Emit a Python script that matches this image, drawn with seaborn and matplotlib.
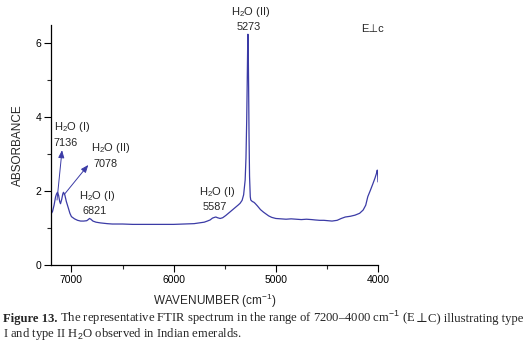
import matplotlib
matplotlib.use("Agg")
import matplotlib.pyplot as plt
import seaborn as sns
import pandas as pd

# ---- data ----
wavenumber = [7200, 7185, 7170, 7155, 7145, 7136, 7125, 7115, 7107, 7095, 7085, 7078,
              7065, 7050, 7029, 7015, 7000, 6970, 6940, 6910, 6880, 6850, 6835, 6824,
              6810, 6790, 6760, 6716, 6650, 6600, 6500, 6400, 6300, 6200, 6100, 6000,
              5900, 5800, 5750, 5700, 5670, 5643, 5620, 5600, 5587, 5570, 5545, 5520,
              5490, 5447, 5400, 5370, 5350, 5330, 5315, 5300, 5292, 5285, 5280, 5276,
              5273, 5270, 5266, 5262, 5257, 5250, 5245, 5230, 5215, 5203, 5180, 5150,
              5120, 5105, 5070, 5040, 5000, 4950, 4900, 4850, 4800, 4750, 4700, 4650,
              4615, 4570, 4530, 4490, 4450, 4400, 4360, 4320, 4270, 4225, 4180, 4145,
              4120, 4100, 4075, 4050, 4030, 4015, 4007, 4003, 4000]
absorbance = [1.38, 1.45, 1.62, 1.85, 1.93, 1.97, 1.88, 1.72, 1.66, 1.78, 1.92, 1.97,
              1.90, 1.72, 1.53, 1.40, 1.31, 1.25, 1.21, 1.19, 1.19, 1.20, 1.23, 1.26,
              1.24, 1.19, 1.16, 1.14, 1.12, 1.11, 1.11, 1.10, 1.10, 1.10, 1.10, 1.10,
              1.11, 1.12, 1.14, 1.16, 1.19, 1.22, 1.27, 1.29, 1.30, 1.28, 1.26, 1.28,
              1.34, 1.44, 1.55, 1.62, 1.67, 1.75, 1.90, 2.30, 2.90, 3.90, 4.90, 5.80,
              6.25, 5.90, 4.80, 3.50, 2.40, 1.85, 1.76, 1.72, 1.70, 1.67, 1.60, 1.50,
              1.43, 1.40, 1.33, 1.29, 1.26, 1.25, 1.24, 1.25, 1.24, 1.23, 1.24, 1.23,
              1.22, 1.21, 1.21, 1.20, 1.19, 1.21, 1.26, 1.30, 1.32, 1.35, 1.40, 1.49,
              1.62, 1.85, 2.02, 2.20, 2.35, 2.48, 2.57, 2.45, 2.25]

peak_names = ["H$_2$O (I)", "H$_2$O (II)", "H$_2$O (I)", "H$_2$O (I)", "H$_2$O (II)"]
peak_positions = ["7136", "7078", "6821", "5587", "5273"]
x_ticks = [7000, 6000, 5000, 4000]
y_ticks = [0, 2, 4, 6]

df = pd.DataFrame({"wavenumber": wavenumber, "absorbance": absorbance})

sns.set_style("ticks")
plt.rcParams["font.family"] = ["Liberation Sans", "DejaVu Sans"]
plt.rcParams["mathtext.fontset"] = "custom"
plt.rcParams["mathtext.rm"] = "Liberation Sans"

W, H = 530, 353
fig = plt.figure(figsize=(W / 100, H / 100), dpi=100)
ax = fig.add_axes([51 / W, 1 - 265 / H, (378 - 51) / W, (265 - 25) / H])


def fp(x, y):
    return (x / W, 1 - y / H)


line_color = "#3b3ba6"
sns.lineplot(data=df, x="wavenumber", y="absorbance", ax=ax, color=line_color,
             linewidth=0.9, sort=True)

ax.set_xlim(7200, 4000)
ax.set_ylim(0, 6.5)
ax.set_xticks(x_ticks)
ax.set_xticks([6500, 5500, 4500], minor=True)
ax.set_yticks(y_ticks)
ax.set_yticks([1, 3, 5], minor=True)
ax.tick_params(axis="both", which="major", direction="out", length=5, width=0.8,
               labelsize=7.5, colors="black", pad=2)
ax.tick_params(axis="both", which="minor", direction="out", length=3, width=0.8)
sns.despine(ax=ax)
for s in ["left", "bottom"]:
    ax.spines[s].set_linewidth(0.9)
    ax.spines[s].set_color("black")

ax.set_xlabel("WAVENUMBER (cm$^{-1}$)", fontsize=8.5, labelpad=5)
ax.set_ylabel("ABSORBANCE", fontsize=8.5, labelpad=8)

# peak labels (pixel centres of each line)
name_pos = [(72, 127), (111, 148), (97, 196), (217, 192), (251, 12)]
num_pos = [(65.5, 143), (106, 164), (94.5, 211), (215, 207), (248.5, 27)]
for name, num, p1, p2 in zip(peak_names, peak_positions, name_pos, num_pos):
    fig.text(*fp(*p1), name, fontsize=8, ha="center", va="center")
    fig.text(*fp(*p2), num, fontsize=7.8, ha="center", va="center")
fig.text(*fp(373, 29), "E⊥c", fontsize=8, ha="center", va="center",
         family=["Liberation Sans", "DejaVu Sans"])

akw = dict(arrowstyle="-|>,head_length=0.45,head_width=0.18", color=line_color, lw=0.7,
           shrinkA=0, shrinkB=0)
ax.annotate("", xy=(7092, 3.11), xytext=(7141, 1.76), arrowprops=akw)
ax.annotate("", xy=(6835, 2.71), xytext=(7073, 1.90), arrowprops=akw)

# caption, placed segment by segment
serif = "Liberation Serif"
fs = 9.05
segments1 = [("Figure 13.", serif, "bold"),
             (" The representative FTIR spectrum in the range of 7200–4000 cm$^{-1}$ (E", serif, "normal"),
             ("⊥", "DejaVu Serif", "normal"),
             ("C) illustrating type", serif, "normal")]
fig.canvas.draw()
r = fig.canvas.get_renderer()
x = 3
for txt, fam, wt in segments1:
    t = fig.text(x / W, 1 - 322 / H, txt, fontsize=fs, fontweight=wt, family=fam,
                 va="baseline", ha="left")
    bb = t.get_window_extent(r)
    x = bb.x1
fig.text(3 / W, 1 - 337.5 / H, "I and type II H$_2$O observed in Indian emeralds.",
         fontsize=fs, family=serif, va="baseline", ha="left")

fig.savefig("out.png", dpi=100)
